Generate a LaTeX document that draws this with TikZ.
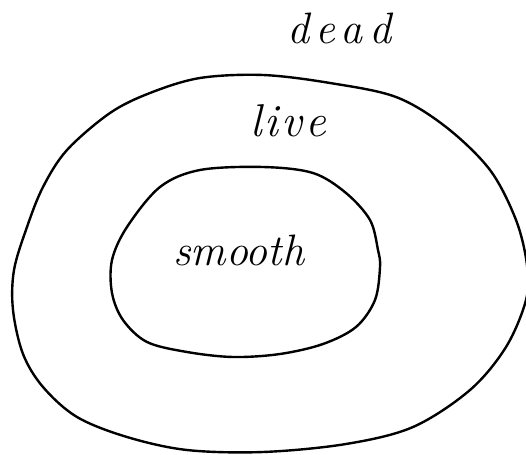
\documentclass[tikz,border=0pt]{standalone}
\begin{document}
\begin{tikzpicture}[x=1pt,y=-1pt,
  curve/.style={draw=black,line width=2.4pt,line join=round},
  lbl/.style={inner sep=0pt,anchor=base west}]
\useasboundingbox (0,0) rectangle (526,454);
\node[lbl,font=\itshape\fontsize{44}{46}\selectfont] (dead) at (287,44) {d\kern6pt e\kern6pt a\kern6pt d};
\node[lbl,font=\itshape\fontsize{46}{48}\selectfont] (live) at (250,137) {l\kern3pt i\kern3pt v\kern3pt e};
\node[lbl,font=\itshape\fontsize{44}{46}\selectfont] (smooth) at (173,265) {smooth};
\draw[curve] plot[smooth cycle,tension=0.55] coordinates {
 (263,75) (330,83) (396,97) (446,127) (490,170) (516,220) (527,265)
 (526,300) (506,347) (470,390) (413,427) (346,444) (263,452) (187,450)
 (127,437) (77,417) (43,387) (23,354) (13,310) (14,270) (27,227) (43,187)
 (67,150) (110,113) (150,93) (200,78)};
\draw[curve] plot[smooth cycle,tension=0.55] coordinates {
 (263,167) (313,173) (346,193) (370,220) (378,250) (380,267) (375,300)
 (356,327) (323,344) (280,354) (233,357) (187,352) (147,342) (123,320)
 (112,293) (112,260) (127,227) (160,187) (200,170)};
\end{tikzpicture}
\end{document}
